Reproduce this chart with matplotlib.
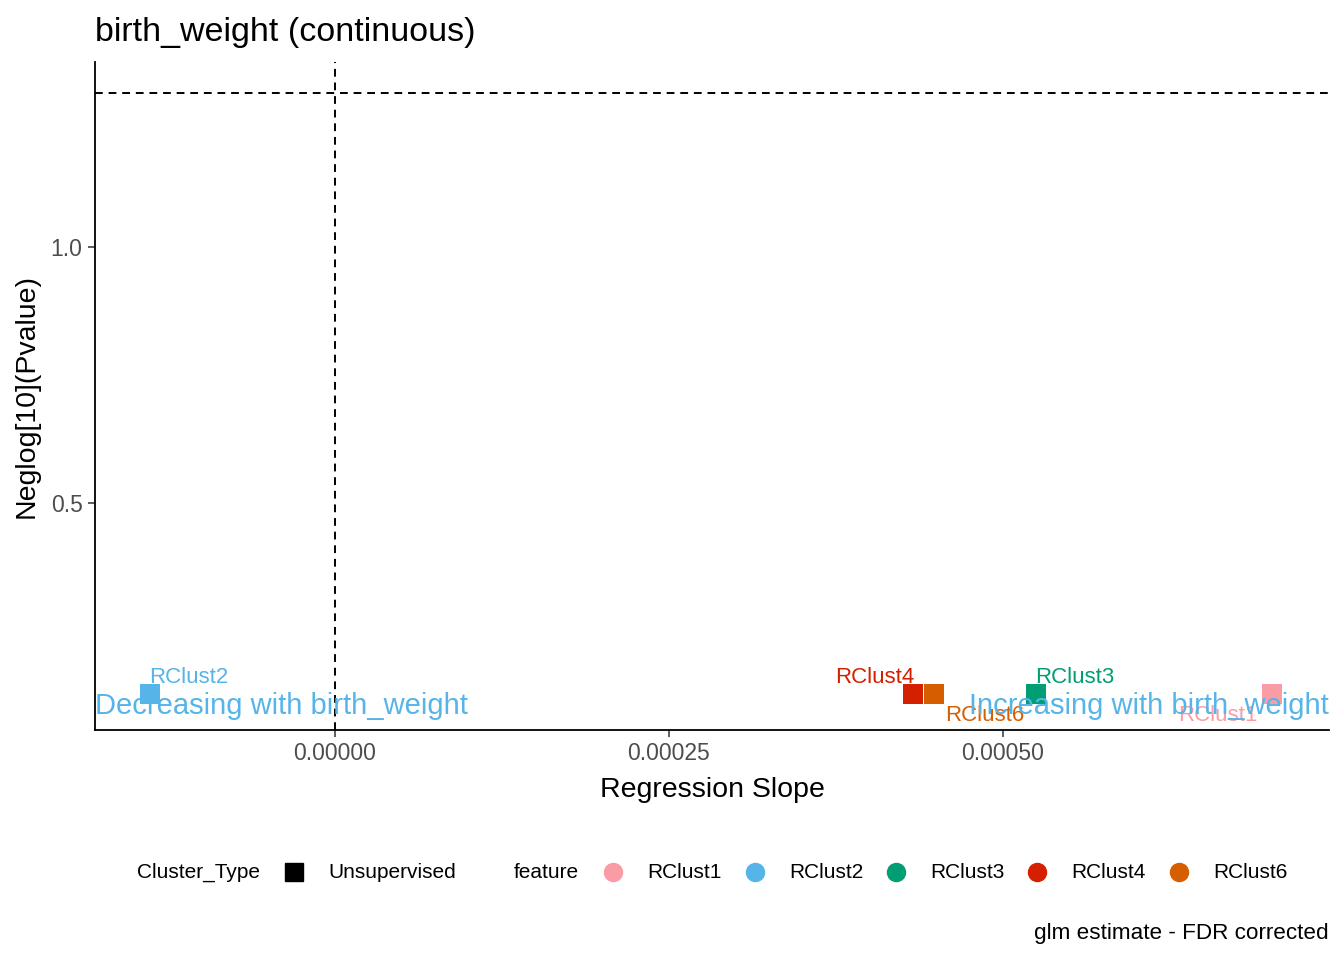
import matplotlib.pyplot as plt
from matplotlib.lines import Line2D

plt.rcParams['font.family'] = ['Liberation Sans', 'DejaVu Sans']

# data
features = ['RClust1', 'RClust2', 'RClust3', 'RClust4', 'RClust6']
slopes = [0.000701, -0.0001385, 0.000525, 0.000433, 0.000448]
neglogp = [0.127, 0.127, 0.127, 0.127, 0.127]
colors = ['#F99CA5', '#56B4E9', '#009E73', '#D41F00', '#D55E00']
xticks = [0.0, 0.00025, 0.0005]
xticklabels = ['0.00000', '0.00025', '0.00050']
yticks = [0.5, 1.0]
sig_line = 1.30103

# label offsets (pixels) mimicking ggrepel placement
offsets = {'RClust1': (-54, -22), 'RClust2': (39, 16), 'RClust3': (38, 16),
           'RClust4': (-39, 16), 'RClust6': (51, -22)}

fig = plt.figure(figsize=(13.44, 9.6), dpi=100)
ax = fig.add_axes([95/1344, 230/960, 1234/1344, 668/960])

ax.axvline(0, color='black', ls=(0, (4, 3)), lw=1.4, zorder=1)
ax.axhline(sig_line, color='black', ls=(0, (4, 3)), lw=1.4, zorder=1)

for f, x, y, c in zip(features, slopes, neglogp, colors):
    ax.scatter(x, y, marker='s', s=190, color=c, zorder=3, linewidths=0)
    dx, dy = offsets[f]
    ax.annotate(f, (x, y), xytext=(dx, dy), textcoords='offset pixels',
                ha='center', va='center', color=c, fontsize=16, zorder=4)

ax.text(0, 0.104, 'Decreasing with birth_weight', transform=ax.get_yaxis_transform(),
        ha='left', va='center', color='#56B4E9', fontsize=21, zorder=5)
ax.text(1, 0.104, 'Increasing with birth_weight', transform=ax.get_yaxis_transform(),
        ha='right', va='center', color='#56B4E9', fontsize=21, zorder=5)

ax.set_xlim(-0.0001796, 0.000744)
ax.set_ylim(0.0566, 1.361)
ax.set_xticks(xticks)
ax.set_xticklabels(xticklabels)
ax.set_yticks(yticks)
ax.tick_params(axis='both', colors='#333333', labelcolor='#4D4D4D',
               labelsize=16.5, length=5, width=1.1, pad=4)
for s in ['top', 'right']:
    ax.spines[s].set_visible(False)
for s in ['left', 'bottom']:
    ax.spines[s].set_linewidth(1.3)
    ax.spines[s].set_color('black')

ax.set_xlabel('Regression Slope', fontsize=20.5, labelpad=8)
ax.set_ylabel('Neglog[10](Pvalue)', fontsize=20.5, labelpad=8)
fig.text(95/1344, 1 - 32/960, 'birth_weight (continuous)', fontsize=24.5,
         ha='left', va='center')

# legend row
ly = 1 - 872/960
fig.text(137/1344, ly, 'Cluster_Type', fontsize=15, ha='left', va='center')
fig.add_artist(Line2D([294/1344], [ly], marker='s', color='black', ms=13,
                      ls='none', transform=fig.transFigure))
fig.text(328/1344, ly, 'Unsupervised', fontsize=15, ha='left', va='center')
fig.text(514/1344, ly, 'feature', fontsize=15, ha='left', va='center')
key_x = [613, 755, 896, 1037, 1179]
for kx, f, c in zip(key_x, features, colors):
    fig.add_artist(Line2D([kx/1344], [ly], marker='o', color=c, ms=13,
                          ls='none', transform=fig.transFigure))
    fig.text((kx + 34)/1344, ly, f, fontsize=15, ha='left', va='center')

fig.text(1329/1344, 1 - 934/960, 'glm estimate - FDR corrected', fontsize=16.2,
         ha='right', va='center')

fig.savefig('out.png', dpi=100)
